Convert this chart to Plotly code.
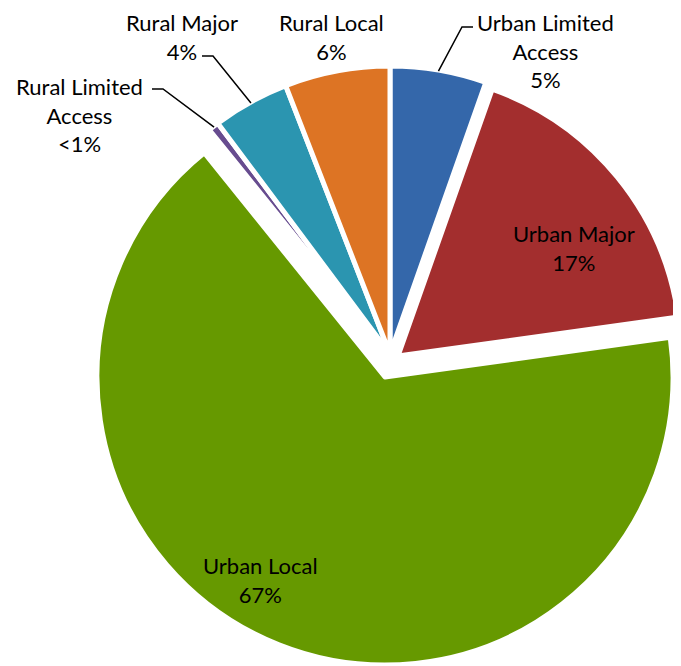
import math
import plotly.graph_objects as go

# ---- data ----
categories = ["Urban Limited Access", "Urban Major", "Urban Local",
              "Rural Limited Access", "Rural Major", "Rural Local"]
values = [5.4, 17.4, 66.4, 0.6, 4.3, 5.9]
pct_labels = ["5%", "17%", "67%", "<1%", "4%", "6%"]
display_names = ["Urban Limited<br>Access", "Urban Major", "Urban Local",
                 "Rural Limited<br>Access", "Rural Major", "Rural Local"]
colors = ["#3467AA", "#A32E2E", "#669900", "#674C8F", "#2B95B0", "#DD7424"]

# ---- layout geometry (pixels in the 681x666 window) ----
WIN_W, WIN_H = 681, 666
OFF = 8  # page body margin
W, H = WIN_W - OFF, WIN_H - OFF
# slice groups drawn as separate pies so each can be offset ("exploded")
groups = [
    ([2], (385, 377), 288),
    ([1], (398, 356), 283),
    ([0, 3, 4, 5], (390, 354), 288),
]
label_pos = {0: (545, 51), 1: (574, 248), 2: (260, 580),
             3: (79, 115), 4: (182, 37), 5: (331, 37)}
elbows = {0: [(473, 27), (462, 27)],
          3: [(152, 89), (163, 89)],
          4: [(202, 56), (213, 56)]}

TRANSPARENT = "rgba(0,0,0,0)"
FONT = "Lato, Carlito, Calibri, sans-serif"


def px_x(x):
    return (x - OFF) / W


def px_y(y):
    return 1 - (y - OFF) / H


fig = go.Figure()
for idx, (cx, cy), r in groups:
    fig.add_trace(go.Pie(
        labels=categories,
        values=values,
        sort=False,
        direction="clockwise",
        rotation=0,
        textinfo="none",
        hovertemplate="%{label}: %{percent}<extra></extra>",
        showlegend=False,
        marker=dict(
            colors=[colors[i] if i in idx else TRANSPARENT for i in range(len(values))],
            line=dict(color=["white" if i in idx else TRANSPARENT for i in range(len(values))],
                      width=5),
        ),
        domain=dict(x=[max(0, px_x(cx - r)), min(1, px_x(cx + r))],
                    y=[max(0, px_y(cy + r)), min(1, px_y(cy - r))]),
    ))

annotations = []
for i, name in enumerate(display_names):
    x, y = label_pos[i]
    annotations.append(dict(
        x=px_x(x), y=px_y(y), xref="paper", yref="paper",
        text=f"{name}<br>{pct_labels[i]}", showarrow=False,
        xanchor="center", yanchor="middle", align="center",
        font=dict(family=FONT, size=22, color="#000000"),
    ))

# leader lines: anchor computed from slice mid-angle on the outer arc
total = sum(values)
cum = [sum(values[:i]) for i in range(len(values))]
(_, (gcx, gcy), gr) = groups[2]
shapes = []
for i, pts in elbows.items():
    theta = math.radians(360 * (cum[i] + values[i] / 2) / total)
    ax = gcx + (gr - 1) * math.sin(theta)
    ay = gcy - (gr - 1) * math.cos(theta)
    allpts = pts + [(ax, ay)]
    path = "M " + " L ".join(f"{px_x(px):.5f} {px_y(py):.5f}" for px, py in allpts)
    shapes.append(dict(type="path", path=path, xref="paper", yref="paper",
                       line=dict(color="#000000", width=1.5)))

fig.update_layout(
    width=W, height=H,
    margin=dict(l=0, r=0, t=0, b=0),
    paper_bgcolor="white", plot_bgcolor="white",
    annotations=annotations, shapes=shapes,
)

fig.write_html("out.html")
